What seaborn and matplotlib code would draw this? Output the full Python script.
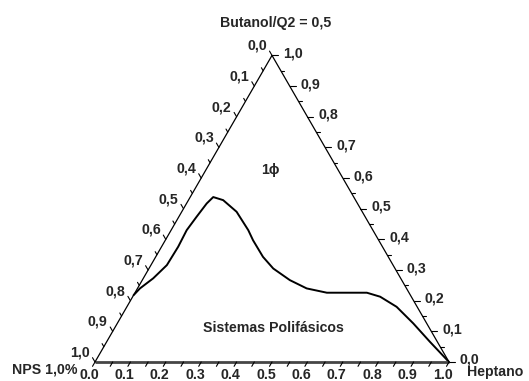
import numpy as np
import pandas as pd
import matplotlib
matplotlib.use("Agg")
import matplotlib.pyplot as plt
import seaborn as sns

# ---- data (ternary compositions of the binodal curve) ----
heptano = [0.000, 0.007, 0.028, 0.045, 0.047, 0.044, 0.050, 0.057, 0.065, 0.098,
           0.155, 0.218, 0.248, 0.303, 0.351, 0.417, 0.478, 0.542, 0.655, 0.699,
           0.762, 0.836, 0.913, 1.000]
butanol = [0.218, 0.240, 0.273, 0.316, 0.376, 0.430, 0.473, 0.517, 0.538, 0.528,
           0.490, 0.430, 0.397, 0.343, 0.305, 0.267, 0.240, 0.226, 0.226, 0.213,
           0.180, 0.126, 0.066, 0.000]
tick_values = [0.0, 0.1, 0.2, 0.3, 0.4, 0.5, 0.6, 0.7, 0.8, 0.9, 1.0]
bottom_labels = ["0.0", "0.1", "0.2", "0.3", "0.4", "0.5", "0.6", "0.7", "0.8", "0.9", "1.0"]
side_labels = ["0,0", "0,1", "0,2", "0,3", "0,4", "0,5", "0,6", "0,7", "0,8", "0,9", "1,0"]

sns.set_style("white")
plt.rcParams["font.family"] = ["Liberation Sans", "DejaVu Sans"]
plt.rcParams["font.weight"] = "bold"

W, H = 529, 381
fig = plt.figure(figsize=(W / 100, H / 100), dpi=100)
x0, ybase, side = 95, 362, 354
hgt = side * np.sqrt(3) / 2
ax = fig.add_axes([x0 / W, (H - ybase) / H, side / W, hgt / H])
ax.set_xlim(0, 1)
ax.set_ylim(0, np.sqrt(3) / 2)
ax.axis("off")

S3 = np.sqrt(3) / 2
px = 1.0 / side  # data units per pixel


def cart(h, b):
    return h + b / 2.0, b * S3


# curve
df = pd.DataFrame({"Heptano": heptano, "Butanol": butanol})
df["x"] = df["Heptano"] + df["Butanol"] / 2
df["y"] = df["Butanol"] * S3
sns.lineplot(data=df, x="x", y="y", sort=False, estimator=None, color="black",
             linewidth=1.4, ax=ax, clip_on=False)

# triangle edges
ax.plot([0, 1], [0, 0], color="#454545", lw=2.0, clip_on=False, solid_capstyle="butt")
ax.plot([0, 0.5], [0, S3], color="black", lw=0.9, clip_on=False)
ax.plot([1, 0.5], [0, S3], color="black", lw=0.9, clip_on=False)

fs = 10.2
minor = np.arange(0, 1.0001, 0.05)
for v in minor:
    major = abs(v * 10 - round(v * 10)) < 1e-6
    # bottom edge: heptano = v
    bx, by = cart(v, 0)
    L = 5 * px
    ax.plot([bx, bx - 0.5 * L], [by, by - S3 * L], color="black", lw=0.8, clip_on=False)
    # left edge: NPS = v  -> butanol = 1 - v
    lx, ly = cart(0, 1 - v)
    L = (5 if major else 3.5) * px
    ax.plot([lx, lx - 0.5 * L], [ly, ly + S3 * L], color="black", lw=0.8, clip_on=False)
    # right edge: butanol = v
    rx, ry = cart(1 - v, v)
    L = (6 if major else 3.5) * px
    ax.plot([rx, rx + L], [ry, ry], color="black", lw=0.8, clip_on=False)

for v, bl, sl in zip(tick_values, bottom_labels, side_labels):
    bx, by = cart(v, 0)
    ax.annotate(bl, (bx, by), xytext=(-6, -13), textcoords="offset pixels",
                ha="center", va="center", fontsize=fs, fontweight="bold", annotation_clip=False)
    lx, ly = cart(0, 1 - v)
    ax.annotate(sl, (lx, ly), xytext=(-5, 9.5), textcoords="offset pixels",
                ha="right", va="center", fontsize=fs, fontweight="bold", annotation_clip=False)
    rx, ry = cart(1 - v, v)
    ax.annotate(sl, (rx, ry), xytext=(11, 2), textcoords="offset pixels",
                ha="left", va="center", fontsize=fs, fontweight="bold", annotation_clip=False)


def ftext(x, y, s, **kw):
    fig.text(x / W, 1 - y / H, s, fontsize=fs, fontweight="bold", **kw)


ftext(275.5, 23, "Butanol/Q2 = 0,5", ha="center", va="center")
ftext(78, 370, "NPS 1,0%", ha="right", va="center")
ftext(467, 372, "Heptano", ha="left", va="center")
ftext(270, 170, "1ϕ", ha="center", va="center")
ftext(273, 327.5, "Sistemas Polifásicos", ha="center", va="center")

fig.savefig("out.png", dpi=100)
